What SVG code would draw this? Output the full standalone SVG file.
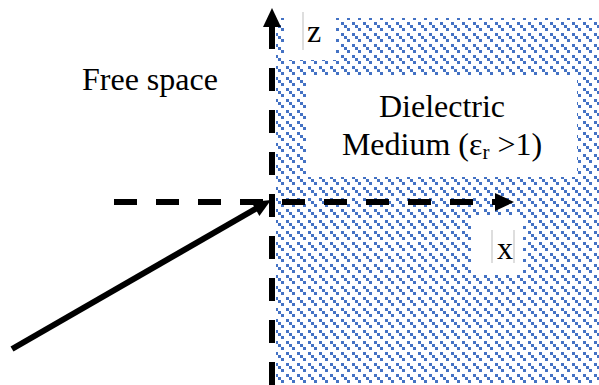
<svg xmlns="http://www.w3.org/2000/svg" width="599" height="385" viewBox="0 0 599 385">
<defs>
<pattern id="hatch" patternUnits="userSpaceOnUse" width="11" height="11">
<rect x="0" y="0" width="3" height="3" fill="#4472C4"/>
<rect x="3" y="3" width="3" height="3" fill="#4472C4"/>
<rect x="6" y="6" width="3" height="3" fill="#4472C4"/>
</pattern>
<style>
.lbl{font-family:"Liberation Serif","Times New Roman",serif;font-size:32px;fill:#000}
.dash{stroke:#000;stroke-width:6;fill:none;stroke-dasharray:23 19}
.box{fill:#fff}
.tick{stroke:#c8c8c8;stroke-width:1.2}
</style>
</defs>
<rect width="599" height="385" fill="#fff"/>
<g id="medium">
<rect x="276" y="18" width="323" height="367" fill="url(#hatch)"/>
</g>
<g id="free-space-label">
<text class="lbl" x="82" y="90">Free space</text>
</g>
<g id="dielectric-label">
<rect class="box" x="308" y="76" width="269" height="101"/>
<text class="lbl" x="442" y="117" text-anchor="middle">Dielectric</text>
<text class="lbl" x="442" y="155" text-anchor="middle">Medium (ε<tspan font-size="21" dy="4">r</tspan><tspan dy="-4"> &gt;1)</tspan></text>
</g>
<g id="z-label">
<rect class="box" x="284" y="18" width="52" height="42"/>
<line class="tick" x1="303" y1="12" x2="303" y2="50"/>
<text class="lbl" x="307" y="42">z</text>
</g>
<g id="x-label">
<rect class="box" x="473" y="215" width="50" height="58"/>
<line class="tick" x1="492" y1="230" x2="492" y2="263"/>
<line class="tick" x1="514" y1="230" x2="514" y2="263"/>
<text class="lbl" x="497" y="259">x</text>
</g>
<g id="connectors">
<line class="dash" x1="272" y1="385" x2="272" y2="26"/>
<polygon points="272,8 263,27 281,27" fill="#000"/>
<line class="dash" x1="114" y1="202" x2="497" y2="202"/>
<polygon points="514,202 495,193 495,211" fill="#000"/>
<line x1="12" y1="349" x2="257" y2="208" stroke="#000" stroke-width="6"/>
<polygon points="271,200 259.4,216 251.4,202" fill="#000"/>
</g>
</svg>
